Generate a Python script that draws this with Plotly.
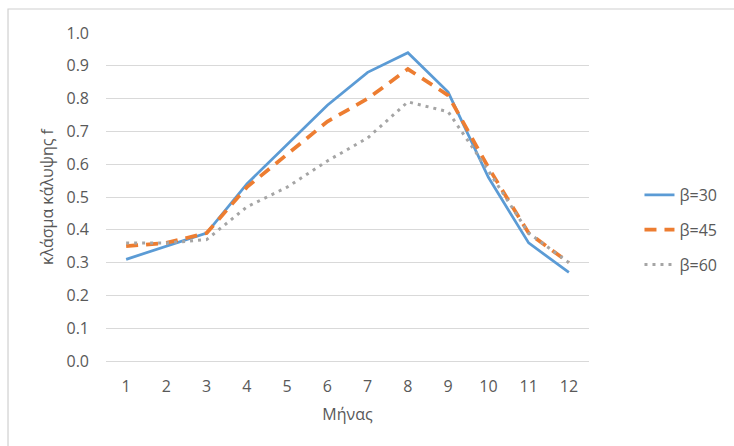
import plotly.graph_objects as go

# Monthly solar coverage fraction f for three collector tilt angles
months = [1, 2, 3, 4, 5, 6, 7, 8, 9, 10, 11, 12]
month_labels = ["1", "2", "3", "4", "5", "6", "7", "8", "9", "10", "11", "12"]
f_beta30 = [0.31, 0.35, 0.39, 0.54, 0.66, 0.78, 0.88, 0.94, 0.82, 0.56, 0.36, 0.27]
f_beta45 = [0.35, 0.36, 0.39, 0.53, 0.63, 0.73, 0.80, 0.89, 0.81, 0.59, 0.39, 0.30]
f_beta60 = [0.36, 0.36, 0.37, 0.47, 0.53, 0.61, 0.68, 0.79, 0.76, 0.58, 0.39, 0.30]
y_ticks = [0.0, 0.1, 0.2, 0.3, 0.4, 0.5, 0.6, 0.7, 0.8, 0.9, 1.0]

FONT = "Open Sans"
TEXT = "#595959"
FS = 16

W, H = 734, 446
L, R, T, B = 106, 140, 33, 85

fig = go.Figure()
fig.add_trace(go.Scatter(x=months, y=f_beta30, mode="lines", name="β=30",
                         legendgroup="a",
                         line=dict(color="#5B9BD5", width=2.75)))
fig.add_trace(go.Scatter(x=months, y=f_beta45, mode="lines", name="β=45",
                         legendgroup="b",
                         line=dict(color="#ED7D31", width=3.75, dash="12px,8px")))
fig.add_trace(go.Scatter(x=months, y=f_beta60, mode="lines", name="β=60",
                         legendgroup="c",
                         line=dict(color="#A5A5A5", width=3, dash="3px,5px")))

# outer chart-area frame (top and left edges visible inside the page)
pw, ph = W - L - R, H - T - B
def px_x(p):
    return (p - L) / pw
def px_y(p):
    return (H - B - p) / ph
fig.add_shape(type="rect", xref="paper", yref="paper",
              x0=px_x(7), x1=px_x(W + 20), y0=px_y(H + 20), y1=px_y(9),
              line=dict(color="#d0d0d0", width=1.2), fillcolor="rgba(0,0,0,0)",
              layer="below")

fig.update_layout(
    width=W, height=H,
    margin=dict(l=L, r=R, t=T, b=B),
    paper_bgcolor="white", plot_bgcolor="white",
    font=dict(family=FONT, size=FS, color=TEXT),
    showlegend=True,
    legend=dict(x=px_x(645), y=px_y(230), xanchor="left", yanchor="middle",
                tracegroupgap=11, font=dict(size=FS, color=TEXT),
                bgcolor="rgba(0,0,0,0)"),
    xaxis=dict(range=[0.5, 12.5], tickmode="array", tickvals=months,
               ticktext=month_labels, showgrid=False, zeroline=False,
               showline=False, ticks="", ticklen=0, ticklabelstandoff=14,
               tickfont=dict(size=FS, color=TEXT),
               title=dict(text="Μήνας", font=dict(size=FS, color=TEXT), standoff=12)),
    yaxis=dict(range=[0, 1.0], tickmode="array", tickvals=y_ticks,
               tickformat=".1f", showgrid=True, gridcolor="#d9d9d9", gridwidth=1,
               zeroline=True, zerolinecolor="#d9d9d9", zerolinewidth=1,
               showline=False, ticks="", ticklen=0, ticklabelstandoff=16,
               tickfont=dict(size=FS, color=TEXT),
               title=dict(text="κλάσμα κάλυψης f", font=dict(size=FS, color=TEXT),
                          standoff=8)),
)

fig.write_html("out.html")
